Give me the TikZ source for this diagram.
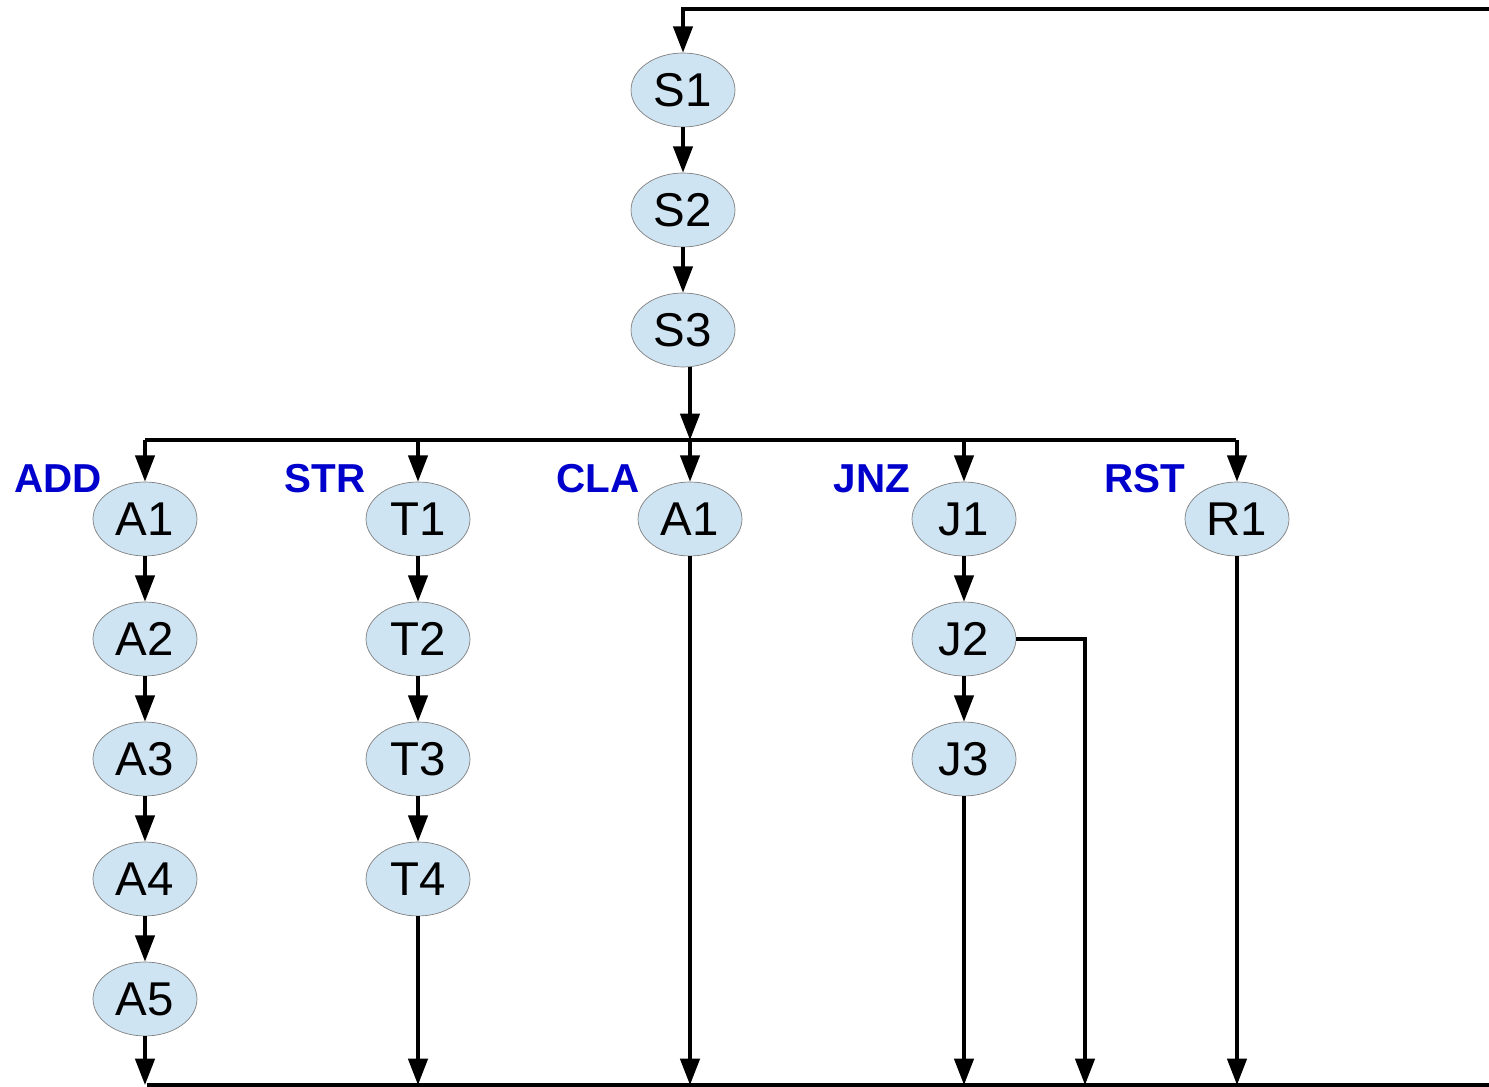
\documentclass[tikz,border=0pt]{standalone}
\usepackage{fontspec}
\setmainfont{Liberation Sans}
\usetikzlibrary{shapes.geometric,arrows.meta}
\definecolor{stateblue}{RGB}{207,228,242}
\definecolor{opblue}{RGB}{0,0,204}

\tikzset{
  state/.style={ellipse,draw=gray,line width=0.4pt,fill=stateblue,
    minimum width=2.08cm,minimum height=1.48cm,inner sep=0pt,
    font=\fontsize{27}{30}\selectfont},
  opname/.style={text=opblue,inner sep=0pt,font=\bfseries\fontsize{23}{26}\selectfont},
  flow/.style={line width=2pt,-{Triangle[length=15pt,width=11pt]}},
  bus/.style={line width=2pt}
}

\begin{document}
\begin{tikzpicture}[x=0.02cm,y=-0.02cm]
\useasboundingbox (0,0) rectangle (1489,1087);

% fetch
\node [state] (s1) at (683,90)  {S1};
\node [state] (s2) at (683,210) {S2};
\node [state] (s3) at (683,330) {S3};

% ADD
\node [state] (a1) at (145,519) {A1};
\node [state] (a2) at (145,639) {A2};
\node [state] (a3) at (145,759) {A3};
\node [state] (a4) at (145,879) {A4};
\node [state] (a5) at (145,999) {A5};

% STR
\node [state] (t1) at (418,519) {T1};
\node [state] (t2) at (418,639) {T2};
\node [state] (t3) at (418,759) {T3};
\node [state] (t4) at (418,879) {T4};

% CLA
\node [state] (c1) at (690,519) {A1};

% JNZ
\node [state] (j1) at (964,519) {J1};
\node [state] (j2) at (964,639) {J2};
\node [state] (j3) at (964,759) {J3};

% RST
\node [state] (r1) at (1237,519) {R1};

\node [opname] (add) at (58,479)   {ADD};
\node [opname] (str) at (325,479)  {STR};
\node [opname] (cla) at (598,479)  {CLA};
\node [opname] (jnz) at (872,479)  {JNZ};
\node [opname] (rst) at (1145,479) {RST};

\coordinate (back) at (1489,9);
\coordinate (busL) at (145,440);
\coordinate (busR) at (1236,440);
\coordinate (endL) at (147,1085);
\coordinate (endR) at (1489,1085);
\coordinate (jump) at (1085,1085);

\draw [flow] (back) -| (s1);
\draw [flow] (s1) -- (s2);
\draw [flow] (s2) -- (s3);
\draw [flow] (s3.south -| c1) -- (c1 |- busL);
\draw [bus] (busL) -- (busR);

\foreach \n in {a1,t1,c1,j1,r1}
  \draw [flow] (\n |- busL) -- (\n);

\foreach \u/\v in {a1/a2,a2/a3,a3/a4,a4/a5,t1/t2,t2/t3,t3/t4,j1/j2,j2/j3}
  \draw [flow] (\u) -- (\v);

\draw [bus] (endL) -- (endR);
\foreach \n in {a5,t4,c1,j3,r1}
  \draw [flow] (\n) -- (\n |- endL);
\draw [flow] (j2.east) -| (jump);

\end{tikzpicture}
\end{document}
